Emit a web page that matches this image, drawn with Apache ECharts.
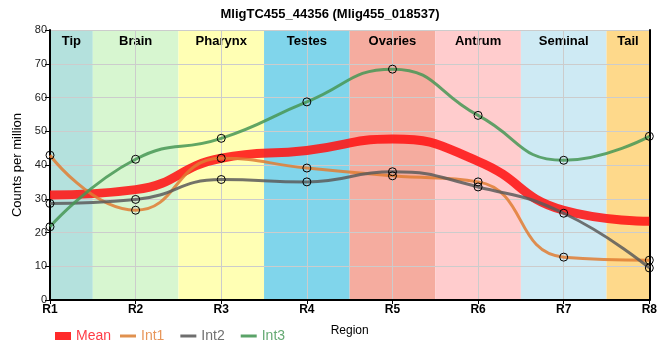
<!DOCTYPE html>
<html><head><meta charset="utf-8">
<script src="https://cdn.jsdelivr.net/npm/echarts@6/dist/echarts.min.js"></script>
<style>html,body{margin:0;padding:0;background:#fff}#c{width:660px;height:360px}</style>
</head><body><div id="c"></div>
<script>
var xLabels = ['R1','R2','R3','R4','R5','R6','R7','R8'];
var regionNames = ['Tip','Brain','Pharynx','Testes','Ovaries','Antrum','Seminal','Tail'];
var regionColors = ['#b4e1dd','#d7f6d0','#ffffb4','#80d5eb','#f5ac9f','#ffcccd','#ceeaf4','#fed98b'];
var int1 = [42.9, 26.6, 42.0, 39.1, 36.8, 35.0, 12.7, 11.8];
var int2 = [28.6, 29.8, 35.7, 35.0, 38.0, 33.5, 25.7, 9.5];
var int3 = [21.7, 41.7, 47.9, 58.7, 68.4, 54.7, 41.4, 48.5];
var meanVals = [31.1, 32.7, 42.0, 44.3, 47.7, 41.1, 26.6, 23.3];
var yTicks = [0,10,20,30,40,50,60,70,80];

var FONT = "'Liberation Sans',Arial,sans-serif";
function pts(arr){ return arr.map(function(v,i){ return [i+1, v]; }); }

var bands = regionNames.map(function(n,i){
  var a = Math.max(1, i+0.5), b = Math.min(xLabels.length, i+1.5);
  return [{xAxis:a, yAxis:yTicks[0], name:n, itemStyle:{color:regionColors[i]}}, {xAxis:b, yAxis:yTicks[yTicks.length-1]}];
});

var markerStyle = {color:'rgba(0,0,0,0)', borderColor:'#000', borderWidth:1};
function intSeries(name, data, color){
  return {name:name, type:'line', data:pts(data), smooth:0.5, z:3,
    lineStyle:{color:color, width:3}, itemStyle:markerStyle, symbol:'circle', symbolSize:8, showSymbol:true};
}

var chart = echarts.init(document.getElementById('c'), null, {renderer:'canvas'});
chart.setOption({
  animation:false,
  textStyle:{fontFamily:FONT},
  title:{text:'MligTC455_44356 (Mlig455_018537)', left:'center', top:3,
    textStyle:{fontFamily:FONT, fontSize:13, fontWeight:'bold', color:'#000'}},
  grid:{left:50, right:10, top:30, bottom:60, containLabel:false},
  legend:[
    {data:[{name:'Mean', itemStyle:{color:'#ff2a2a', borderWidth:0}, textStyle:{color:'#ff3c46'}}],
      left:50, top:324, icon:'rect', itemWidth:16, itemHeight:8,
      textStyle:{fontFamily:FONT, fontSize:14}},
    {data:[{name:'Int1', itemStyle:{color:'#e0914f', borderWidth:0}, textStyle:{color:'#e8965a'}},
           {name:'Int2', itemStyle:{color:'#6e6e6e', borderWidth:0}, textStyle:{color:'#707070'}},
           {name:'Int3', itemStyle:{color:'#5aa368', borderWidth:0}, textStyle:{color:'#66aa74'}}],
      left:115, top:324, icon:'rect', itemWidth:16, itemHeight:3, itemGap:16,
      textStyle:{fontFamily:FONT, fontSize:14}}
  ],
  xAxis:{type:'value', min:1, max:8, interval:1, z:1.5,
    name:'Region', nameLocation:'middle', nameGap:25,
    nameTextStyle:{fontFamily:FONT, fontSize:12, color:'#000'},
    axisLine:{show:true, onZero:false, lineStyle:{color:'#000', width:2}},
    axisTick:{show:true, length:4, lineStyle:{color:'#000'}},
    axisLabel:{formatter:function(v){ return xLabels[v-1]; }, fontFamily:FONT, fontSize:12, fontWeight:'bold', color:'#000', margin:4},
    splitLine:{show:true, lineStyle:{color:'#cccccc', width:1}}},
  yAxis:[{type:'value', min:0, max:80, interval:10, z:1.5,
    name:'Counts per million', nameLocation:'middle', nameGap:17,
    nameTextStyle:{fontFamily:FONT, fontSize:13, color:'#000'},
    axisLine:{show:true, lineStyle:{color:'#000', width:2}},
    axisTick:{show:true, length:5, lineStyle:{color:'#000'}},
    axisLabel:{fontFamily:FONT, fontSize:11, color:'#222', margin:3},
    splitLine:{show:true, lineStyle:{color:'#cccccc', width:1}}},
   {type:'value', min:0, max:80, interval:10, position:'right', z:1.5,
    axisLine:{show:true, lineStyle:{color:'#000', width:2}}, axisTick:{show:false}, axisLabel:{show:false}, splitLine:{show:false}}],
  series:[
    {name:'bands', type:'line', data:[], z:0, silent:true,
      markArea:{silent:true, z:1, label:{show:true, position:'insideTop', distance:5, fontFamily:FONT, fontSize:13, fontWeight:'bold', color:'#000'},
        itemStyle:{opacity:1}, data:bands}},
    {name:'Mean', type:'line', data:pts(meanVals), smooth:0.5, showSymbol:false, symbol:'none', z:2,
      lineStyle:{color:'rgba(255,20,20,0.88)', width:9}},
    intSeries('Int1', int1, 'rgba(224,125,50,0.85)'),
    intSeries('Int2', int2, 'rgba(90,90,90,0.85)'),
    intSeries('Int3', int3, 'rgba(70,150,85,0.85)')
  ]
});
</script></body></html>
